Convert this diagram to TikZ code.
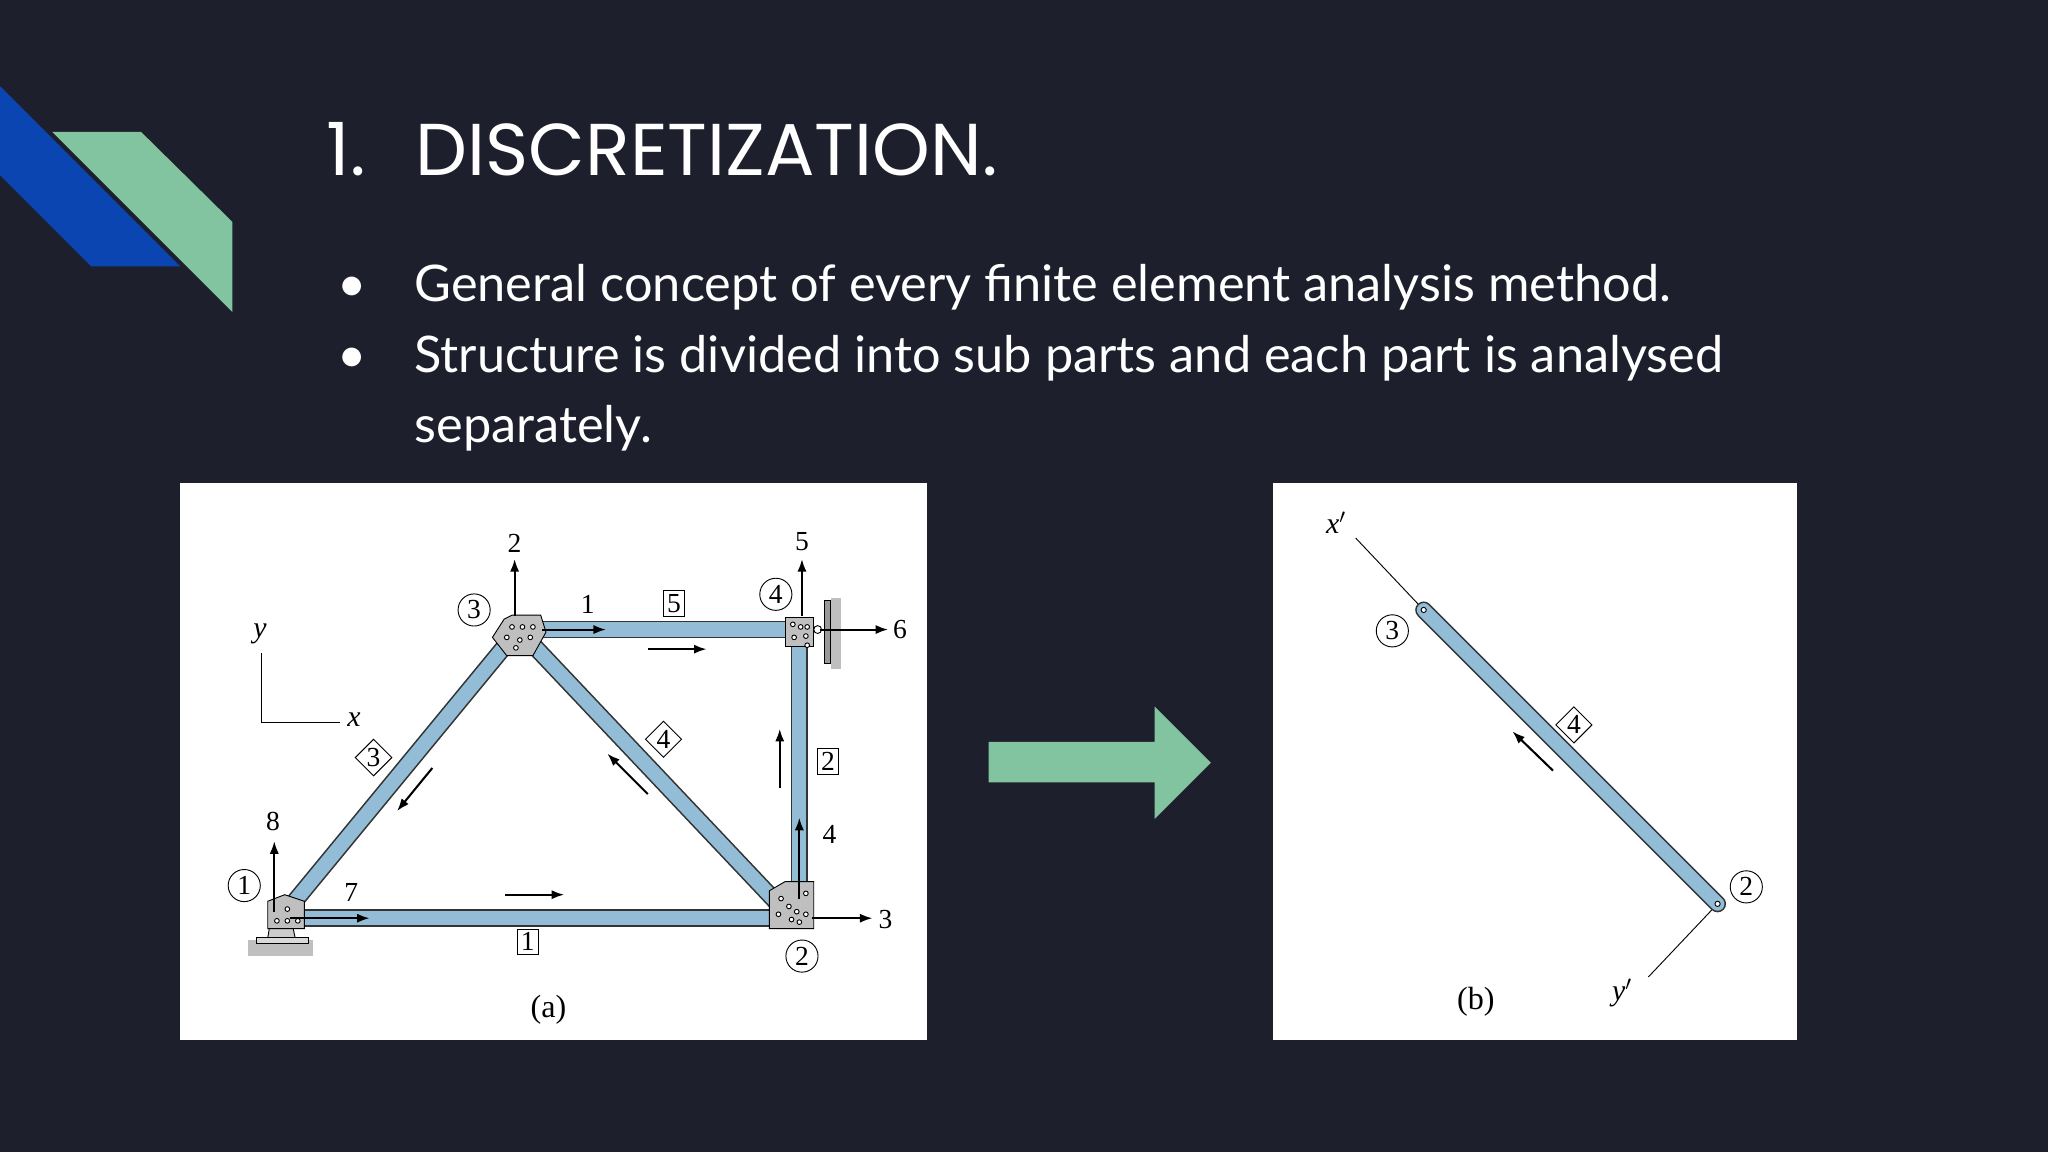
\documentclass[tikz,border=0pt]{standalone}
\usepackage{fontspec}
\setmainfont{Liberation Serif}
\newfontfamily\lato{Lato}
\newfontfamily\pop{Poppins}
\usetikzlibrary{arrows.meta,shapes.geometric}
\definecolor{bg}{HTML}{1D202C}
\definecolor{lblue}{HTML}{0A45B2}
\definecolor{lgreen}{HTML}{82C4A0}
\definecolor{steel}{HTML}{93BDD6}
\begin{document}
\begin{tikzpicture}[x=0.02cm,y=-0.02cm,
  mem/.style={line width=7.6pt,draw=black!80,line cap=butt},
  memi/.style={line width=6.2pt,draw=steel,line cap=butt},
  nc/.style={circle,draw,inner sep=0.6pt,minimum size=14pt,font=\fontsize{12}{12}\selectfont},
  eb/.style={rectangle,draw,fill=white,inner sep=1.5pt,font=\fontsize{12}{12}\selectfont},
  ed/.style={diamond,draw,fill=white,inner sep=0.5pt,font=\fontsize{12}{12}\selectfont},
  lb/.style={font=\fontsize{12}{12}\selectfont,inner sep=0pt},
  ar/.style={-{Latex[length=5.5pt,width=4pt]},line width=0.9pt},
  bul/.style={anchor=base west,text=white,inner sep=0pt,font=\lato\fontsize{22}{22}\selectfont}]
\fill[bg] (0,0) rectangle (1568,882);
\useasboundingbox (0,0) rectangle (1568,882);
% logo
\fill[lblue] (0,66) -- (138,204) -- (70,204) -- (0,134) -- cycle;
\fill[lgreen] (40,101) -- (108,101) -- (178,170) -- (178,239) -- cycle;
% title
\node[anchor=base west,text=white,inner sep=0pt,font=\pop\fontsize{32}{32}\selectfont] (title) at (250,134) {1.};
\node[anchor=base west,text=white,inner sep=0pt,font=\pop\fontsize{32}{32}\selectfont] (title2) at (318,134) {DISCRETIZATION.};
\node[bul] (b1) at (258,231) {\textbullet};
\node[bul] (t1) at (317,231) {General concept of every finite element analysis method.};
\node[bul] (b2) at (258,285) {\textbullet};
\node[bul] (t2) at (317,285) {Structure is divided into sub parts and each part is analysed};
\node[bul] (t3) at (317,339) {separately.};
% panel a
\fill[white] (138,370) rectangle (710,796);
\coordinate (n1) at (215,703);
\coordinate (n2) at (606,703);
\coordinate (n3) at (397,482);
\coordinate (n4) at (612,482);
\coordinate (n2v) at (612,703);
% support
\fill[black!25] (190,720) rectangle (240,732);
\draw[fill=black!20] (205,718) -- (208,700) -- (222,700) -- (226,718) -- cycle;
\draw[fill=black!15] (196,718) rectangle (236,722);
% wall
\fill[black!25] (636,458) rectangle (644,512);
\draw[fill=black!40] (631,460) rectangle (636,508);
% members
\foreach \a/\b in {n1/n2v,n1/n3,n3/n2,n3/n4,n4/n2v}{\draw[mem] (\a) -- (\b);}
\foreach \a/\b in {n1/n2v,n1/n3,n3/n2,n3/n4,n4/n2v}{\draw[memi] (\a) -- (\b);}
% gussets
\draw[fill=black!25] (386,474) -- (392,471) -- (414,471) -- (418,484) -- (408,502) -- (388,502) -- (377,488) -- cycle;
\draw[fill=black!25] (601,473) rectangle (623,495);
\draw[fill=black!25] (589,682) -- (601,675) -- (623,675) -- (623,711) -- (589,711) -- cycle;
\draw[fill=black!25] (205,690) -- (218,685) -- (233,690) -- (233,711) -- (205,711) -- cycle;
\foreach \p in {(392,480),(400,480),(408,480),(388,488),(398,490),(406,488),(395,496)}{\draw[line width=0.4pt,fill=white] \p circle (1.8);}
\foreach \p in {(607,478),(613,480),(618,480),(617,487),(618,494),(608,488)}{\draw[line width=0.4pt,fill=white] \p circle (1.8);}
\foreach \p in {(598,688),(604,694),(610,698),(617,684),(617,700),(596,700),(606,704),(612,706)}{\draw[line width=0.4pt,fill=white] \p circle (1.8);}
\foreach \p in {(212,705),(220,705),(228,705),(220,696)}{\draw[line width=0.4pt,fill=white] \p circle (1.8);}
\draw[fill=white] (626,482) circle (3);
% axes
\draw[line width=0.5pt] (200,500) -- (200,553) -- (260,553);
\node[lb,font=\itshape\fontsize{13}{13}\selectfont] (ly) at (199,485) {y};
\node[lb,font=\itshape\fontsize{13}{13}\selectfont] (lx) at (271,551) {x};
% node circles
\node[nc] (c1) at (187,678) {1};
\node[nc] (c2) at (614,732) {2};
\node[nc] (c3) at (363,467) {3};
\node[nc] (c4) at (594,455) {4};
% element labels
\node[eb] (e1) at (404,721) {1};
\node[eb] (e2) at (634,583) {2};
\node[eb] (e5) at (516,462) {5};
\node[ed] (e3) at (286,580) {3};
\node[ed] (e4) at (508,566) {4};
% dof arrows
\coordinate (d2a) at (394,472); \coordinate (d2b) at (394,428);
\coordinate (d5a) at (614,472); \coordinate (d5b) at (614,428);
\coordinate (d6a) at (628,482); \coordinate (d6b) at (680,482);
\coordinate (d3a) at (622,703); \coordinate (d3b) at (668,703);
\coordinate (d4a) at (612,688); \coordinate (d4b) at (612,626);
\coordinate (d8a) at (210,698); \coordinate (d8b) at (210,644);
\coordinate (d7a) at (222,703); \coordinate (d7b) at (283,703);
\coordinate (d1a) at (415,482); \coordinate (d1b) at (464,482);
\foreach \k in {2,5,6,3,4,8,7,1}{\draw[ar] (d\k a) -- (d\k b);}
\node[lb] (l2) at (394,416) {2};
\node[lb] (l5) at (614,415) {5};
\node[lb] (l6) at (689,482) {6};
\node[lb] (l3) at (678,704) {3};
\node[lb] (l4) at (635,639) {4};
\node[lb] (l8) at (209,629) {8};
\node[lb] (l7) at (269,683) {7};
\node[lb] (l1) at (450,463) {1};
% direction arrows
\coordinate (r1a) at (496,497); \coordinate (r1b) at (541,497);
\coordinate (r2a) at (387,685); \coordinate (r2b) at (432,685);
\coordinate (r3a) at (597,603); \coordinate (r3b) at (597,558);
\coordinate (r4a) at (331,588); \coordinate (r4b) at (304,621);
\coordinate (r5a) at (496,608); \coordinate (r5b) at (465,577);
\foreach \k in {1,...,5}{\draw[ar] (r\k a) -- (r\k b);}
\node[lb,font=\fontsize{14}{14}\selectfont] (capa) at (420,773) {(a)};
% big arrow
\fill[lgreen] (757,568) -- (884,568) -- (884,541) -- (927,584) -- (884,627) -- (884,599) -- (757,599) -- cycle;
% panel b
\fill[white] (975,370) rectangle (1376,796);
\coordinate (m3) at (1090,467);
\coordinate (m2) at (1315,692);
\coordinate (xp) at (1038,412);
\coordinate (yp) at (1262,748);
\draw[line width=0.4pt] (xp) -- (m3);
\draw[line width=0.4pt] (m2) -- (yp);
\draw[line width=7.4pt,draw=black!80,line cap=round] (m3) -- (m2);
\draw[line width=6pt,draw=steel,line cap=round] (m3) -- (m2);
\draw[fill=white,line width=0.4pt] (m3) circle (2);
\draw[fill=white,line width=0.4pt] (m2) circle (2);
\node[lb,font=\itshape\fontsize{13}{13}\selectfont] (lxp) at (1023,400) {x$'$};
\node[lb,font=\itshape\fontsize{13}{13}\selectfont] (lyp) at (1242,760) {y$'$};
\node[nc] (k3) at (1066,483) {3};
\node[nc] (k2) at (1337,679) {2};
\node[ed] (f4) at (1205,555) {4};
\coordinate (s1) at (1189,590); \coordinate (s2) at (1158,560);
\draw[ar] (s1) -- (s2);
\node[lb,font=\fontsize{14}{14}\selectfont] (capb) at (1130,767) {(b)};
\end{tikzpicture}
\end{document}
